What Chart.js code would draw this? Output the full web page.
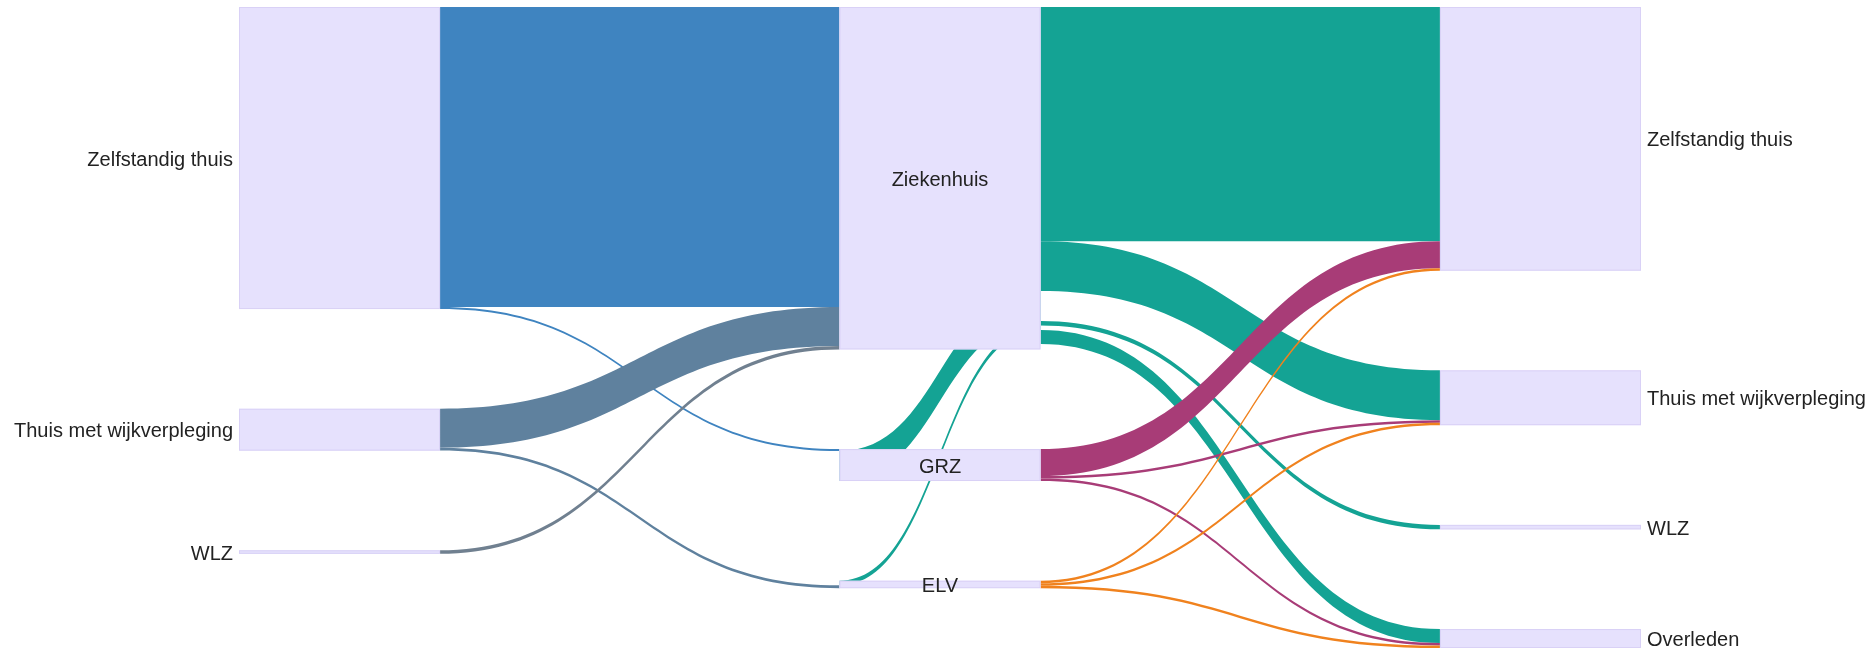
<!DOCTYPE html>
<html lang="nl">
<head>
<meta charset="utf-8">
<title>Zorgpad</title>
<script src="https://cdn.jsdelivr.net/npm/chart.js@4.4.1/dist/chart.umd.min.js"></script>
<style>
  html, body { margin: 0; padding: 0; background: #fff; }
  #wrap { width: 1875px; height: 650px; position: relative; }
</style>
</head>
<body>
<div id="wrap"><canvas id="sankeyChart"></canvas></div>
<script>
// knopen: herkomst -> zorg -> bestemming
const nodeLabels = ["Zelfstandig thuis", "Thuis met wijkverpleging", "WLZ",
                    "Ziekenhuis", "GRZ", "ELV",
                    "Zelfstandig thuis", "Thuis met wijkverpleging", "WLZ", "Overleden"];
const nodeStage = [0, 0, 0, 1, 1, 1, 2, 2, 2, 2];

// stromen
const linkSource = [0, 0, 1, 1, 2, 3, 3, 3, 3, 3, 3, 4, 4, 4, 5, 5, 5];
const linkTarget = [3, 4, 3, 5, 3, 6, 7, 4, 8, 5, 9, 6, 7, 9, 6, 7, 9];
const linkValue  = [301, 2, 39, 3, 3.5, 235, 50, 30, 4.5, 4.5, 14, 27, 2.5, 2.5, 2.5, 2.5, 2.5];

const NODE_WIDTH = 0.1434;
const NODE_GAP = 100;
const nodeFill = "#e6e1fd";
const nodeBorder = "#d9d1f6";
const flowColors = ["#3f84c0", "#5f819e", "#708090", "#14a394", "#a83c77", "#f0821e"];
const labelFont = '20px "Liberation Sans", Arial, sans-serif';

function stageX(s) {
    return s * (1 - NODE_WIDTH) / 2;
}

function layoutSankey() {
    const n = nodeLabels.length;
    const inSum = new Array(n).fill(0);
    const outSum = new Array(n).fill(0);
    linkValue.forEach((v, i) => {
        outSum[linkSource[i]] += v;
        inSum[linkTarget[i]] += v;
    });
    const size = inSum.map((v, i) => Math.max(v, outSum[i]));
    const top = new Array(n).fill(0);
    const stageEnd = [];
    nodeStage.forEach((s, i) => {
        const start = stageEnd[s] === undefined ? 0 : stageEnd[s] + NODE_GAP;
        top[i] = start;
        stageEnd[s] = start + size[i];
    });

    const outOff = top.slice();
    const inOff = top.slice();
    const srcY = [], tgtY = [];
    const idx = linkValue.map((v, i) => i);
    idx.slice()
        .sort((a, b) => top[linkTarget[a]] - top[linkTarget[b]] || a - b)
        .forEach(i => { srcY[i] = outOff[linkSource[i]]; outOff[linkSource[i]] += linkValue[i]; });
    idx.slice()
        .sort((a, b) => top[linkSource[a]] - top[linkSource[b]] || linkSource[a] - linkSource[b])
        .forEach(i => { tgtY[i] = inOff[linkTarget[i]]; inOff[linkTarget[i]] += linkValue[i]; });

    return { size, top, srcY, tgtY, maxY: Math.max(...stageEnd) };
}

const lay = layoutSankey();

const sankeyPlugin = {
    id: "sankeyFlows",
    beforeDatasetsDraw(chart) {
        const { ctx, scales: { x, y } } = chart;
        ctx.save();
        linkValue.forEach((v, i) => {
            const s = linkSource[i], t = linkTarget[i];
            const x0 = x.getPixelForValue(stageX(nodeStage[s]) + NODE_WIDTH);
            const x1 = x.getPixelForValue(stageX(nodeStage[t]));
            const xm = (x0 + x1) / 2;
            const a0 = y.getPixelForValue(lay.srcY[i]);
            const b0 = y.getPixelForValue(lay.srcY[i] + v);
            const a1 = y.getPixelForValue(lay.tgtY[i]);
            const b1 = y.getPixelForValue(lay.tgtY[i] + v);
            ctx.beginPath();
            ctx.moveTo(x0, a0);
            ctx.bezierCurveTo(xm, a0, xm, a1, x1, a1);
            ctx.lineTo(x1, b1);
            ctx.bezierCurveTo(xm, b1, xm, b0, x0, b0);
            ctx.closePath();
            ctx.fillStyle = flowColors[s];
            ctx.fill();
        });
        ctx.restore();
    },
    afterDatasetsDraw(chart) {
        const { ctx, scales: { x, y } } = chart;
        ctx.save();
        ctx.font = labelFont;
        ctx.textBaseline = "middle";
        nodeLabels.forEach((label, i) => {
            const left = x.getPixelForValue(stageX(nodeStage[i]));
            const right = x.getPixelForValue(stageX(nodeStage[i]) + NODE_WIDTH);
            const top = y.getPixelForValue(lay.top[i]);
            const bottom = y.getPixelForValue(lay.top[i] + lay.size[i]);
            ctx.fillStyle = nodeFill;
            ctx.fillRect(left, top, right - left, bottom - top);
            ctx.strokeStyle = nodeBorder;
            ctx.lineWidth = 1;
            ctx.strokeRect(left + 0.5, top + 0.5, right - left - 1, Math.max(bottom - top - 1, 0));

            const mid = (top + bottom) / 2 + 2;
            ctx.fillStyle = "#222";
            if (nodeStage[i] === 0) {
                ctx.textAlign = "right";
                ctx.fillText(label, left - 6, mid);
            } else if (nodeStage[i] === 1) {
                ctx.textAlign = "center";
                ctx.fillText(label, (left + right) / 2, mid);
            } else {
                ctx.textAlign = "left";
                ctx.fillText(label, right + 6, mid);
            }
        });
        ctx.restore();
    }
};

const sankeyChart = new Chart(document.getElementById("sankeyChart").getContext("2d"), {
    type: "scatter",
    data: {
        datasets: [{
            data: nodeLabels.map((l, i) => ({
                x: stageX(nodeStage[i]) + NODE_WIDTH / 2,
                y: lay.top[i] + lay.size[i] / 2
            })),
            pointRadius: 0,
            pointHoverRadius: 0
        }]
    },
    options: {
        responsive: true,
        maintainAspectRatio: false,
        animation: false,
        events: [],
        layout: { padding: { left: 239, right: 234, top: 7, bottom: 2 } },
        plugins: {
            legend: { display: false },
            tooltip: { enabled: false }
        },
        scales: {
            x: { type: "linear", display: false, min: 0, max: 1 },
            y: { type: "linear", display: false, reverse: true, min: 0, max: lay.maxY }
        }
    },
    plugins: [sankeyPlugin]
});
</script>
</body>
</html>
